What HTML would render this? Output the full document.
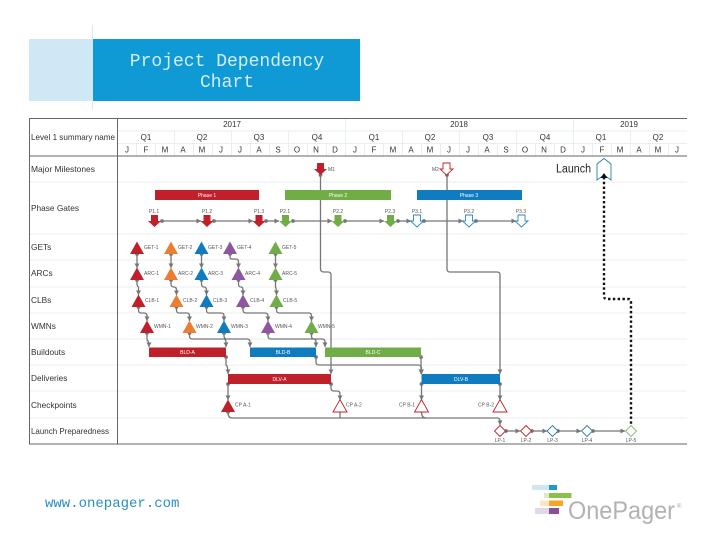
<!DOCTYPE html>
<html><head><meta charset="utf-8"><style>
html,body{margin:0;padding:0;background:#fff;width:720px;height:540px;overflow:hidden}
svg{display:block}
text{font-family:"Liberation Sans",sans-serif}
.h{font-size:8px;fill:#333;text-anchor:middle}
.r{font-size:8.3px;fill:#333}
.s{font-size:5px;fill:#555}
.m{font-size:5px;fill:#555;text-anchor:middle}
.b{font-size:5px;fill:#fff;text-anchor:middle}
.c{fill:none;stroke:#767676;stroke-width:1.3;marker-end:url(#ah);marker-start:url(#dot)}
.g{fill:none;stroke:#767676;stroke-width:1.3}
</style></head><body>
<svg width="720" height="540" viewBox="0 0 720 540" xmlns="http://www.w3.org/2000/svg">
<defs>
<marker id="ah" markerWidth="6" markerHeight="6" refX="4.500" refY="2.500" orient="auto" markerUnits="userSpaceOnUse"><path d="M0 0L4.500 2.500L0 5z" fill="#767676"/></marker>
<marker id="dot" markerWidth="5" markerHeight="5" refX="2.500" refY="2.500" markerUnits="userSpaceOnUse"><circle cx="2.500" cy="2.500" r="1.900" fill="#767676"/></marker>
<path id="dn" d="M-3.500 -6H3.500V0H6.500L0 6L-6.500 0H-3.500z"/>
<path id="tri" d="M0 -6.500L7 6H-7z"/>
<path id="dia" d="M0 -5.500L5.500 0L0 5.500L-5.500 0z"/>
</defs>
<rect width="720" height="540" fill="#fff"/>

<!-- title -->
<line x1="92.500" y1="25" x2="92.500" y2="110" stroke="#dfe6ea"/>
<rect x="29" y="39" width="64" height="62" fill="#d0e8f5"/>
<rect x="93" y="39" width="267" height="62" fill="#0f9ad6"/>
<text x="227" y="66" text-anchor="middle" style="font-family:'Liberation Mono',monospace;font-size:18px" fill="#d4edf8">Project Dependency</text>
<text x="227" y="87" text-anchor="middle" style="font-family:'Liberation Mono',monospace;font-size:18px" fill="#d4edf8">Chart</text>

<!-- light row lines -->
<g stroke="#e9eef0" stroke-width="1">
<line x1="29" y1="182" x2="687" y2="182"/><line x1="29" y1="234" x2="687" y2="234"/>
<line x1="29" y1="260" x2="687" y2="260"/><line x1="29" y1="287" x2="687" y2="287"/>
<line x1="29" y1="313" x2="687" y2="313"/><line x1="29" y1="339" x2="687" y2="339"/>
<line x1="29" y1="365" x2="687" y2="365"/><line x1="29" y1="391" x2="687" y2="391"/>
<line x1="29" y1="418" x2="687" y2="418"/>
<line x1="117.500" y1="131" x2="687" y2="131"/><line x1="117.500" y1="143.500" x2="687" y2="143.500"/>
<line x1="345.500" y1="118" x2="345.500" y2="156"/><line x1="573.500" y1="118" x2="573.500" y2="156"/>
<line x1="174.500" y1="131" x2="174.500" y2="156"/><line x1="231.500" y1="131" x2="231.500" y2="156"/><line x1="288.500" y1="131" x2="288.500" y2="156"/>
<line x1="402.500" y1="131" x2="402.500" y2="156"/><line x1="459.500" y1="131" x2="459.500" y2="156"/><line x1="516.500" y1="131" x2="516.500" y2="156"/>
<line x1="630.500" y1="131" x2="630.500" y2="156"/>
<line x1="136.500" y1="143.500" x2="136.500" y2="156"/><line x1="155.500" y1="143.500" x2="155.500" y2="156"/><line x1="193.500" y1="143.500" x2="193.500" y2="156"/><line x1="212.500" y1="143.500" x2="212.500" y2="156"/><line x1="250.500" y1="143.500" x2="250.500" y2="156"/><line x1="269.500" y1="143.500" x2="269.500" y2="156"/><line x1="307.500" y1="143.500" x2="307.500" y2="156"/><line x1="326.500" y1="143.500" x2="326.500" y2="156"/><line x1="364.500" y1="143.500" x2="364.500" y2="156"/><line x1="383.500" y1="143.500" x2="383.500" y2="156"/><line x1="421.500" y1="143.500" x2="421.500" y2="156"/><line x1="440.500" y1="143.500" x2="440.500" y2="156"/><line x1="478.500" y1="143.500" x2="478.500" y2="156"/><line x1="497.500" y1="143.500" x2="497.500" y2="156"/><line x1="535.500" y1="143.500" x2="535.500" y2="156"/><line x1="554.500" y1="143.500" x2="554.500" y2="156"/><line x1="592.500" y1="143.500" x2="592.500" y2="156"/><line x1="611.500" y1="143.500" x2="611.500" y2="156"/><line x1="649.500" y1="143.500" x2="649.500" y2="156"/><line x1="668.500" y1="143.500" x2="668.500" y2="156"/>
</g>

<!-- frame -->
<g stroke="#666" stroke-width="1" fill="none">
<line x1="29" y1="118.500" x2="687" y2="118.500"/>
<line x1="29" y1="156" x2="687" y2="156"/>
<line x1="29" y1="444" x2="687" y2="444"/>
<line x1="29.500" y1="118" x2="29.500" y2="444"/>
<line x1="117.500" y1="118" x2="117.500" y2="444"/>
</g>

<!-- header text -->
<text class="h" x="232" y="127">2017</text><text class="h" x="459" y="127">2018</text><text class="h" x="629" y="127">2019</text>
<text class="h" x="146" y="140">Q1</text><text class="h" x="202" y="140">Q2</text><text class="h" x="259" y="140">Q3</text><text class="h" x="317" y="140">Q4</text>
<text class="h" x="374" y="140">Q1</text><text class="h" x="430" y="140">Q2</text><text class="h" x="488" y="140">Q3</text><text class="h" x="545" y="140">Q4</text>
<text class="h" x="601" y="140">Q1</text><text class="h" x="658" y="140">Q2</text>
<g class="hm">
<text class="h" x="127" y="152.500">J</text><text class="h" x="146" y="152.500">F</text><text class="h" x="165" y="152.500">M</text><text class="h" x="183" y="152.500">A</text><text class="h" x="202" y="152.500">M</text><text class="h" x="221" y="152.500">J</text><text class="h" x="240" y="152.500">J</text><text class="h" x="259" y="152.500">A</text><text class="h" x="278" y="152.500">S</text><text class="h" x="297" y="152.500">O</text><text class="h" x="316" y="152.500">N</text><text class="h" x="335" y="152.500">D</text>
<text class="h" x="355" y="152.500">J</text><text class="h" x="374" y="152.500">F</text><text class="h" x="393" y="152.500">M</text><text class="h" x="411" y="152.500">A</text><text class="h" x="430" y="152.500">M</text><text class="h" x="449" y="152.500">J</text><text class="h" x="468" y="152.500">J</text><text class="h" x="487" y="152.500">A</text><text class="h" x="506" y="152.500">S</text><text class="h" x="525" y="152.500">O</text><text class="h" x="544" y="152.500">N</text><text class="h" x="563" y="152.500">D</text>
<text class="h" x="583" y="152.500">J</text><text class="h" x="602" y="152.500">F</text><text class="h" x="620" y="152.500">M</text><text class="h" x="639" y="152.500">A</text><text class="h" x="658" y="152.500">M</text><text class="h" x="677" y="152.500">J</text>
</g>

<!-- row labels -->
<text class="r" x="31" y="140" textLength="84" lengthAdjust="spacingAndGlyphs">Level 1 summary name</text>
<text class="r" x="31" y="172" textLength="64" lengthAdjust="spacingAndGlyphs">Major Milestones</text>
<text class="r" x="31" y="211">Phase Gates</text>
<text class="r" x="31" y="250">GETs</text>
<text class="r" x="31" y="276">ARCs</text>
<text class="r" x="31" y="303">CLBs</text>
<text class="r" x="31" y="329">WMNs</text>
<text class="r" x="31" y="355">Buildouts</text>
<text class="r" x="31" y="381">Deliveries</text>
<text class="r" x="31" y="408">Checkpoints</text>
<text class="r" x="31" y="434" textLength="78" lengthAdjust="spacingAndGlyphs">Launch Preparedness</text>

<!-- long connectors -->
<path class="c" d="M320.500 175V269Q320.500 272 324 272H328Q331 272 331 275V374"/>
<path class="c" d="M447 175V269Q447 272 450 272H497Q500 272 500 275V374"/>
<path d="M604 177V296Q604 299 607 299H628Q631 299 631 302V425" fill="none" stroke="#111" stroke-width="2.400" stroke-dasharray="2.400 2.400"/>

<!-- gate connectors -->
<path class="c" d="M162 221H201"/><path class="c" d="M214 221H253"/><path class="c" d="M266 221H279"/><path class="c" d="M293 221H332"/><path class="c" d="M345 221H384"/><path class="c" d="M398 221H411"/><path class="c" d="M424 221H463"/><path class="c" d="M476 221H516"/>

<!-- GET/ARC/CLB/WMN connectors -->
<path class="c" d="M137 254V268"/><path class="c" d="M171 254V268"/><path class="c" d="M201.500 254V268"/>
<path class="c" d="M230 254V257Q230 259 232 259H236Q238.500 259 238.500 262V268"/>
<path class="c" d="M275.500 254V268"/>
<path class="c" d="M137 280V284Q137 286 138.500 287V295"/>
<path class="c" d="M171 280V284Q171 287 174 287Q176.500 287 176.500 290V295"/>
<path class="c" d="M201.500 280V284Q201.500 287 204 287Q206.500 287 206.500 290V295"/>
<path class="c" d="M238.500 280V284Q238.500 287 241 287Q243 287 243 290V295"/>
<path class="c" d="M275.500 280V287Q276.500 288 276.500 295"/>
<path class="c" d="M138.500 307V310Q138.500 313 141 313H144Q147 313 147 316V321"/>
<path class="c" d="M176.500 307V310Q176.500 313 179 313H187Q189.500 313 189.500 316V321"/>
<path class="c" d="M206.500 307V310Q206.500 313 209 313H221Q224 313 224 316V321"/>
<path class="c" d="M243 307V310Q243 313 246 313H265Q268 313 268 316V321"/>
<path class="c" d="M276.500 307V310Q276.500 313 279 313H309Q311.500 313 311.500 316V321"/>
<path class="c" d="M147 333V340Q149 341 149 347"/>
<path class="c" d="M189.500 333V336Q189.500 339 192 339H223Q226 339 226 342V347"/>
<path class="c" d="M224 333V336Q224 339 227 339H247Q250 339 250 342V347"/>
<path class="c" d="M268 333V336Q268 339 271 339H313Q316 339 316 342V347"/>
<path class="c" d="M311.500 333V336Q311.500 339 314 339H322Q325 339 325 342V347"/>

<!-- build to deliver connectors -->
<path class="c" d="M226 357V365Q228 366 228 374"/>
<path class="c" d="M316 357V362Q316 365 319 365H418Q421 365 421.500 368V374"/>
<path class="c" d="M421 357V374"/>
<path class="c" d="M228 384V400"/>
<path class="c" d="M331 384V388Q331 391 334 391H337Q340 391 340 394V400"/>
<path class="c" d="M421.500 384V400"/>
<path class="c" d="M500 384V400"/>
<path class="c" d="M228 412Q228 418 232 418H497Q500 418 500 421V425"/>
<path class="g" d="M340 412V418"/><path class="g" d="M421.500 412Q421.500 418 426 418"/>
<path class="c" d="M506 431H520"/><path class="c" d="M532 431H547"/><path class="c" d="M558 431H581"/><path class="c" d="M593 431H625"/>

<!-- milestones -->
<use href="#dn" x="320.500" y="169" fill="#c0202a"/>
<use href="#dn" x="446.500" y="169" fill="#fff" stroke="#c0202a" stroke-width="0.900"/>
<text class="s" x="328" y="171">M1</text><text class="s" x="432" y="171">M2</text>
<path d="M604 158.500L611 164V180L604 175L597 180V164z" fill="#fff" stroke="#2a7fa8" stroke-width="0.900"/>
<path d="M604 173L607.500 178H600.500z" fill="#111"/>
<text x="556" y="172.500" style="font-size:11.500px;font-weight:400" fill="#222" textLength="35" lengthAdjust="spacingAndGlyphs">Launch</text>

<!-- phases -->
<rect x="155" y="190" width="104" height="10" fill="#c0202a"/><rect x="285" y="190" width="106" height="10" fill="#70ad47"/><rect x="417" y="190" width="105" height="10" fill="#0f7cc0"/>
<text class="b" x="207" y="197">Phase 1</text><text class="b" x="338" y="197">Phase 2</text><text class="b" x="469" y="197">Phase 3</text>

<!-- gates -->
<g fill="#c0202a"><use href="#dn" x="154.500" y="221"/><use href="#dn" x="207" y="221"/><use href="#dn" x="259" y="221"/></g>
<g fill="#70ad47"><use href="#dn" x="285.500" y="221"/><use href="#dn" x="338" y="221"/><use href="#dn" x="390.500" y="221"/></g>
<g fill="#fff" stroke="#2a86bd" stroke-width="0.900"><use href="#dn" x="417" y="221"/><use href="#dn" x="469" y="221"/><use href="#dn" x="521.500" y="221"/></g>
<text class="m" x="154" y="213">P1.1</text><text class="m" x="207" y="213">P1.2</text><text class="m" x="259" y="213">P1.3</text><text class="m" x="285" y="213">P2.1</text><text class="m" x="338" y="213">P2.2</text><text class="m" x="390" y="213">P2.3</text><text class="m" x="417" y="213">P3.1</text><text class="m" x="469" y="213">P3.2</text><text class="m" x="521" y="213">P3.3</text>

<!-- triangles -->
<g fill="#c0202a"><use href="#tri" x="137" y="248"/><use href="#tri" x="137" y="274"/><use href="#tri" x="138.500" y="301"/><use href="#tri" x="147" y="327"/></g>
<g fill="#ed7d31"><use href="#tri" x="171" y="248"/><use href="#tri" x="171" y="274"/><use href="#tri" x="176.500" y="301"/><use href="#tri" x="189.500" y="327"/></g>
<g fill="#0f7cc0"><use href="#tri" x="201.500" y="248"/><use href="#tri" x="201.500" y="274"/><use href="#tri" x="206.500" y="301"/><use href="#tri" x="224" y="327"/></g>
<g fill="#8e55a0"><use href="#tri" x="230" y="248"/><use href="#tri" x="238.500" y="274"/><use href="#tri" x="243" y="301"/><use href="#tri" x="268" y="327"/></g>
<g fill="#70ad47"><use href="#tri" x="275.500" y="248"/><use href="#tri" x="275.500" y="274"/><use href="#tri" x="276.500" y="301"/><use href="#tri" x="311.500" y="327"/></g>
<text class="s" x="144" y="249">GET-1</text><text class="s" x="178" y="249">GET-2</text><text class="s" x="208" y="249">GET-3</text><text class="s" x="237" y="249">GET-4</text><text class="s" x="282" y="249">GET-5</text>
<text class="s" x="144" y="275">ARC-1</text><text class="s" x="178" y="275">ARC-2</text><text class="s" x="208" y="275">ARC-3</text><text class="s" x="245" y="275">ARC-4</text><text class="s" x="282" y="275">ARC-5</text>
<text class="s" x="145" y="302">CLB-1</text><text class="s" x="183" y="302">CLB-2</text><text class="s" x="213" y="302">CLB-3</text><text class="s" x="250" y="302">CLB-4</text><text class="s" x="283" y="302">CLB-5</text>
<text class="s" x="154" y="328">WMN-1</text><text class="s" x="196" y="328">WMN-2</text><text class="s" x="231" y="328">WMN-3</text><text class="s" x="275" y="328">WMN-4</text><text class="s" x="318" y="328">WMN-5</text>

<!-- build and deliver bars -->
<rect x="149" y="347.500" width="77" height="9.500" fill="#c0202a"/><rect x="250" y="347.500" width="66" height="9.500" fill="#0f7cc0"/><rect x="325" y="347.500" width="96" height="9.500" fill="#70ad47"/>
<text class="b" x="187.500" y="354">BLD-A</text><text class="b" x="283" y="354">BLD-B</text><text class="b" x="373" y="354">BLD-C</text>
<rect x="228" y="374" width="103" height="10" fill="#c0202a"/><rect x="421.500" y="374" width="78.500" height="10" fill="#0f7cc0"/>
<text class="b" x="279.500" y="381">DLV-A</text><text class="b" x="461" y="381">DLV-B</text>

<!-- checkpoints -->
<use href="#tri" x="228" y="406" fill="#c0202a"/>
<g fill="#fff" stroke="#c0202a" stroke-width="0.900"><use href="#tri" x="340" y="406"/><use href="#tri" x="421.500" y="406"/><use href="#tri" x="500" y="406"/></g>
<text class="s" x="235" y="406.500">CP A-1</text><text class="s" x="346" y="406.500">CP A-2</text><text class="s" x="399" y="406.500">CP B-1</text><text class="s" x="478" y="406.500">CP B-2</text>

<!-- launch prep -->
<g fill="#fff" stroke-width="0.900">
<use href="#dia" x="500" y="431" stroke="#c0202a"/><use href="#dia" x="526" y="431" stroke="#c0202a"/><use href="#dia" x="552.500" y="431" stroke="#2a7fa8"/><use href="#dia" x="587" y="431" stroke="#2a7fa8"/><use href="#dia" x="631" y="431" stroke="#8fb36e"/>
</g>
<text class="m" x="500" y="442">LP-1</text><text class="m" x="526" y="442">LP-2</text><text class="m" x="552.500" y="442">LP-3</text><text class="m" x="587" y="442">LP-4</text><text class="m" x="631" y="442">LP-5</text>

<!-- footer -->
<text x="45" y="507" style="font-family:'Liberation Mono',monospace;font-size:14px" fill="#2a8fc0">www.onepager.com</text>
<rect x="532" y="485" width="17" height="5" fill="#cfe6f3"/><rect x="549" y="485" width="8" height="5" fill="#1f97d0"/>
<rect x="544" y="493" width="5" height="5" fill="#dcecc8"/><rect x="549" y="493" width="22.500" height="5" fill="#8cc04b"/>
<rect x="540" y="500.500" width="9" height="5.500" fill="#fbe6c4"/><rect x="549" y="500.500" width="14" height="5.500" fill="#f5a623"/>
<rect x="535" y="508" width="14" height="6" fill="#e2d8e8"/><rect x="549" y="508" width="10" height="6" fill="#8b4f96"/>
<text x="568" y="519" style="font-size:25px" fill="#b0b2b5" textLength="107" lengthAdjust="spacingAndGlyphs">OnePager</text>
<text x="677" y="508" style="font-size:6px" fill="#a3a6a9">®</text>
</svg>
</body></html>
